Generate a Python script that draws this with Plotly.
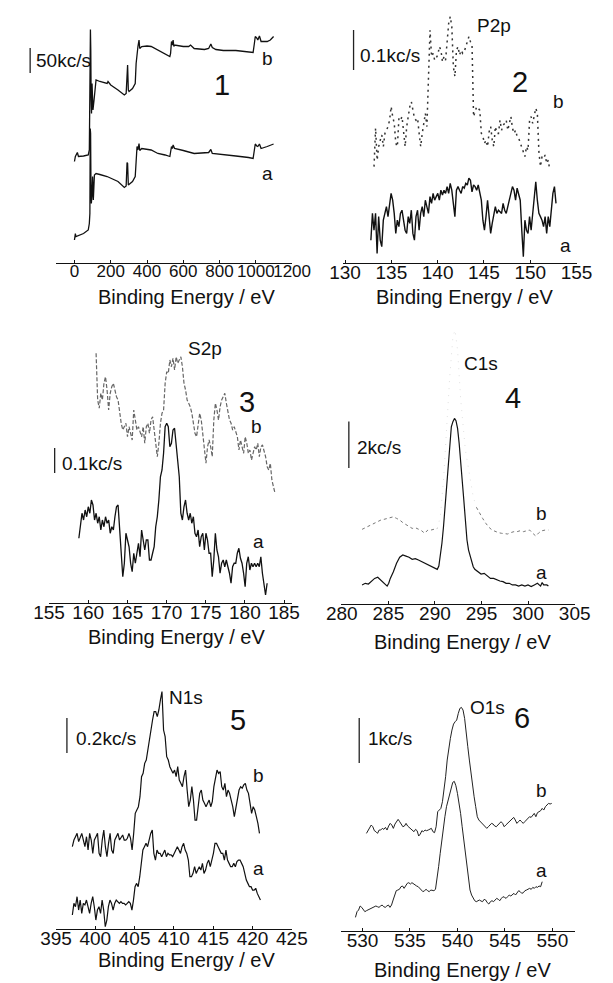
import numpy as np
import plotly.graph_objects as go

W, H = 613, 983
FONT = "Liberation Sans, Arial, Helvetica, sans-serif"

# ---------------- Panel 1: survey spectra (kc/s) ----------------
survey_b_ev = [0, 5, 16, 22, 50, 76, 82, 86, 88, 90, 92, 94, 97, 102, 108, 119, 140, 180, 185, 200,
               240, 275, 285, 290, 293, 297, 301, 320, 335, 340, 345, 350, 356, 360, 371, 400, 423, 460,
               500, 526, 530, 535, 540, 544, 548, 552, 600, 630, 640, 660, 717, 740, 752, 760, 780, 821,
               890, 960, 985, 992, 997, 1005, 1011, 1020, 1029, 1063, 1080, 1098]
survey_b_kcps = [203, 213, 221, 213, 214, 216, 226, 393, 467, 426, 326, 299, 359, 306, 326, 366, 363, 359,
                 363, 356, 346, 336, 339, 393, 396, 346, 343, 349, 359, 399, 426, 433, 446, 429, 433, 434,
                 433, 426, 419, 413, 419, 443, 436, 446, 433, 436, 433, 433, 436, 429, 427, 429, 438, 431,
                 427, 425, 425, 423, 421, 439, 453, 450, 446, 454, 443, 443, 446, 453]
survey_a_ev = [0, 5, 8, 50, 76, 82, 85, 87, 89, 91, 93, 96, 100, 104, 110, 119, 140, 180, 240, 275, 285,
               290, 293, 297, 320, 335, 340, 345, 350, 356, 360, 371, 423, 460, 500, 526, 535, 540, 544,
               552, 600, 660, 740, 752, 760, 821, 890, 960, 985, 992, 997, 1005, 1011, 1020, 1029, 1063, 1098]
survey_a_kcps = [46, 59, 53, 59, 66, 79, 99, 269, 259, 153, 119, 133, 173, 126, 176, 179, 177, 173, 163,
                 151, 154, 201, 199, 156, 163, 173, 213, 233, 226, 239, 225, 229, 226, 219, 216, 213, 233,
                 229, 236, 229, 225, 219, 221, 227, 219, 216, 214, 211, 209, 226, 238, 234, 233, 238, 229,
                 233, 238]

# ---------------- Panel 2: P2p (c/s) ----------------
P2P_A_EV = (132.79, 152.78)
p2p_a_cps = [57, 124, 82, 124, 24, 116, 57, 41, 107, 124, 141, 116, 149, 174, 157, 124, 74, 107, 91, 124,
             132, 107, 82, 74, 116, 99, 132, 74, 57, 116, 132, 82, 124, 141, 116, 157, 141, 124, 166, 149,
             174, 157, 166, 174, 157, 182, 170, 182, 174, 191, 174, 199, 182, 149, 116, 182, 191, 182, 174,
             191, 187, 199, 195, 212, 207, 178, 195, 191, 182, 195, 174, 157, 107, 82, 116, 157, 116, 74,
             99, 124, 141, 124, 132, 128, 124, 149, 132, 124, 141, 157, 174, 191, 182, 157, 187, 174, 157,
             82, 16, 107, 82, 74, 116, 82, 124, 157, 203, 157, 124, 116, 107, 91, 116, 74, 116, 91, 141,
             174, 191, 149]
P2P_B_EV = (133.13, 152.11)
p2p_b_cps = [241, 337, 257, 291, 307, 320, 291, 324, 332, 341, 357, 391, 366, 349, 299, 291, 362, 357, 366,
             324, 291, 341, 366, 391, 403, 382, 362, 357, 362, 324, 291, 324, 349, 374, 341, 449, 582, 516,
             524, 507, 512, 520, 541, 532, 503, 516, 507, 557, 599, 616, 591, 491, 466, 532, 541, 520, 532,
             524, 528, 541, 557, 566, 553, 545, 366, 378, 391, 387, 382, 324, 316, 299, 307, 291, 328, 341,
             307, 291, 341, 324, 324, 357, 332, 345, 349, 357, 332, 349, 366, 337, 324, 332, 316, 312, 299,
             291, 278, 266, 291, 282, 357, 366, 349, 370, 387, 374, 278, 241, 266, 262, 270, 249, 257, 232]

# ---------------- Panel 3: S2p (c/s) ----------------
S2P_A_EV = (158.81, 182.84)
s2p_a_cps = [259, 305, 359, 332, 372, 345, 385, 359, 412, 392, 332, 359, 319, 345, 292, 332, 305, 345, 319,
             332, 279, 305, 292, 345, 385, 392, 279, 172, 105, 159, 279, 252, 225, 159, 125, 199, 159, 199,
             239, 185, 292, 252, 212, 252, 252, 172, 172, 199, 225, 305, 345, 412, 505, 532, 599, 705, 719,
             705, 625, 639, 692, 699, 639, 572, 505, 359, 332, 385, 412, 359, 332, 359, 319, 345, 279, 265,
             292, 225, 265, 279, 212, 279, 252, 199, 199, 105, 172, 279, 212, 185, 119, 159, 172, 145, 172,
             145, 119, 79, 145, 159, 159, 199, 219, 179, 159, 119, 65, 159, 185, 132, 159, 145, 159, 145,
             159, 145, 185, 119, 65, 32, 79]
S2P_B_EV = (161.01, 183.85)
s2p_b_cps = [999, 812, 779, 839, 812, 879, 905, 852, 772, 839, 865, 879, 852, 825, 812, 759, 719, 692, 705,
             719, 665, 705, 679, 652, 772, 732, 692, 705, 679, 665, 705, 639, 705, 719, 679, 732, 745, 692,
             639, 585, 639, 719, 759, 772, 879, 925, 919, 972, 945, 979, 932, 985, 959, 972, 985, 945, 879,
             852, 812, 799, 785, 759, 719, 679, 665, 705, 759, 732, 679, 612, 559, 625, 652, 625, 585, 732,
             799, 772, 732, 785, 812, 825, 839, 799, 759, 732, 719, 692, 705, 679, 665, 612, 652, 625, 599,
             665, 639, 599, 612, 572, 599, 625, 612, 639, 585, 625, 632, 612, 585, 545, 532, 559, 492, 465,
             439]

# ---------------- Panel 4: C1s (kc/s) ----------------
c1s_a_ev = [282.18, 282.52, 282.86, 283.19, 283.53, 283.86, 284.20, 284.54, 284.87, 285.04, 285.21, 285.54,
            285.88, 286.22, 286.55, 286.89, 287.22, 287.56, 287.90, 288.23, 288.57, 288.90, 289.24, 289.58,
            289.91, 290.25, 290.42, 290.58, 290.75, 290.92, 291.09, 291.26, 291.42, 291.59, 291.76, 291.93,
            292.10, 292.26, 292.43, 292.60, 292.77, 292.94, 293.10, 293.27, 293.44, 293.61, 293.78, 293.94,
            294.11, 294.28, 294.62, 294.95, 295.29, 295.63, 295.96, 296.30, 296.63, 296.97, 297.31, 297.64,
            297.98, 298.31, 298.65, 298.99, 299.32, 299.66, 299.99, 300.33, 300.67, 301.00, 301.34, 301.51,
            301.67, 302.01, 302.18]
c1s_a_kcps = [0.82, 0.89, 0.86, 0.96, 1.10, 1.15, 1.03, 0.92, 0.77, 0.89, 1.10, 1.39, 1.75, 2.01, 2.11,
              2.06, 2.01, 1.92, 1.95, 1.89, 1.82, 1.75, 1.68, 1.60, 1.56, 1.49, 1.63, 2.03, 2.61, 3.32,
              4.18, 5.19, 6.19, 7.05, 7.62, 7.84, 7.98, 7.88, 7.55, 6.91, 6.19, 5.33, 4.47, 3.61, 2.75,
              2.32, 2.03, 1.78, 1.60, 1.49, 1.39, 1.29, 1.32, 1.20, 1.10, 1.10, 1.03, 0.99, 0.96, 0.89,
              0.89, 0.82, 0.82, 0.77, 0.82, 0.77, 0.82, 0.75, 0.82, 0.89, 0.77, 0.92, 0.82, 0.82, 0.77]
c1s_b_ev = [282.18, 282.52, 282.86, 283.19, 283.53, 283.86, 284.20, 284.54, 284.87, 285.21, 285.54, 285.88,
            286.22, 286.55, 286.89, 287.22, 287.56, 287.90, 288.23, 288.57, 288.90, 289.24, 289.58, 289.91,
            290.25, 290.58, 290.92, 291.26, 291.59, 291.93, 292.16, 292.43, 292.77, 293.27, 293.78, 294.11,
            294.45, 294.78, 295.12, 295.46, 295.79, 296.13, 296.47, 296.80, 297.14, 297.47, 297.81, 298.15,
            298.48, 298.82, 299.15, 299.49, 299.83, 300.16, 300.50, 300.83, 301.17, 301.51, 301.84, 302.18]
c1s_b_kcps = [3.21, 3.28, 3.32, 3.40, 3.47, 3.54, 3.61, 3.64, 3.68, 3.73, 3.75, 3.68, 3.61, 3.50, 3.42,
              3.35, 3.25, 3.28, 3.21, 3.15, 3.04, 3.18, 3.18, 3.21, 3.25, 3.75, 5.33, 7.62, 9.77, 11.49,
              11.78, 10.92, 8.77, 6.62, 5.33, 4.61, 4.16, 3.90, 3.68, 3.47, 3.30, 3.18, 3.11, 3.07, 3.04,
              3.04, 3.01, 3.07, 3.11, 3.11, 3.15, 3.11, 3.15, 3.18, 3.04, 2.92, 3.07, 3.15, 3.18, 3.18]
C1S_B_PEAK = slice(24, 37)   # steep peak section of curve b, printed very faintly

# ---------------- Panel 5: N1s (c/s) ----------------
N1S_A_EV = (397.08, 421.0)
n1s_a_cps = [80, 146, 127, 184, 108, 165, 89, 146, 137, 165, 127, 89, 146, 184, 127, 51, 108, 127, 89, 165,
             108, 13, 51, 127, 165, 146, 108, 146, 165, 156, 146, 156, 146, 146, 137, 146, 156, 146, 108,
             165, 241, 260, 241, 298, 374, 450, 469, 488, 469, 507, 545, 564, 431, 393, 450, 431, 431, 412,
             431, 450, 412, 431, 422, 422, 412, 431, 450, 469, 450, 431, 469, 488, 450, 431, 393, 298, 298,
             317, 355, 317, 336, 355, 336, 374, 317, 336, 374, 393, 355, 393, 431, 488, 488, 469, 450, 431,
             431, 393, 450, 393, 374, 355, 355, 374, 355, 384, 393, 393, 374, 355, 317, 279, 260, 241, 241,
             222, 222, 232, 203, 184, 165]
N1S_B_EV = (397.08, 420.88)
n1s_b_cps = [469, 507, 526, 545, 498, 526, 545, 507, 469, 526, 450, 545, 507, 431, 507, 526, 545, 431, 412,
             507, 564, 469, 412, 488, 545, 450, 431, 507, 526, 545, 507, 526, 536, 507, 507, 517, 545, 517,
             450, 545, 659, 678, 697, 754, 868, 887, 944, 963, 1020, 1077, 1153, 1191, 1239, 1239, 1210,
             1248, 1305, 1353, 1134, 1096, 982, 963, 925, 906, 887, 906, 868, 925, 849, 830, 811, 868, 906,
             792, 697, 735, 811, 735, 621, 621, 697, 773, 792, 735, 716, 697, 716, 735, 697, 726, 811, 868,
             906, 887, 897, 811, 792, 830, 754, 792, 773, 735, 697, 640, 697, 754, 792, 811, 802, 821, 830,
             792, 773, 716, 659, 697, 678, 640, 602, 545]

# ---------------- Panel 6: O1s (kc/s) ----------------
O1S_A_EV = (529.26, 548.93)
o1s_a_kcps = [0.303, 0.429, 0.466, 0.555, 0.525, 0.481, 0.429, 0.451, 0.466, 0.481, 0.503, 0.525, 0.540,
              0.555, 0.540, 0.525, 0.555, 0.577, 0.540, 0.525, 0.555, 0.577, 0.525, 0.577, 0.688, 0.799,
              0.895, 0.910, 0.925, 0.984, 0.999, 0.947, 1.021, 1.058, 1.073, 1.043, 1.073, 1.043, 1.021,
              0.999, 0.984, 0.947, 0.910, 0.873, 0.895, 0.925, 0.895, 0.873, 0.910, 0.895, 0.895, 0.925,
              1.132, 1.428, 1.724, 2.020, 2.316, 2.538, 2.760, 2.908, 3.056, 3.204, 3.300, 3.323, 3.226,
              3.056, 2.871, 2.612, 2.316, 2.020, 1.724, 1.428, 1.132, 0.910, 0.799, 0.725, 0.673, 0.651,
              0.673, 0.688, 0.666, 0.651, 0.703, 0.688, 0.629, 0.599, 0.651, 0.673, 0.651, 0.688, 0.725,
              0.703, 0.673, 0.725, 0.762, 0.747, 0.725, 0.762, 0.799, 0.777, 0.799, 0.836, 0.799, 0.851,
              0.895, 0.873, 0.836, 0.851, 0.895, 0.910, 0.925, 0.947, 0.925, 0.969, 0.947, 0.984, 0.969,
              0.999, 0.984, 1.095]
O1S_B_EV = (530.42, 549.93)
o1s_b_kcps = [2.168, 2.242, 2.279, 2.353, 2.316, 2.227, 2.205, 2.168, 2.242, 2.242, 2.279, 2.257, 2.301,
              2.242, 2.331, 2.390, 2.353, 2.279, 2.375, 2.427, 2.479, 2.427, 2.375, 2.316, 2.331, 2.390,
              2.331, 2.301, 2.279, 2.242, 2.205, 2.257, 2.227, 2.109, 2.153, 2.227, 2.205, 2.242, 2.227,
              2.242, 2.257, 2.279, 2.205, 2.183, 2.316, 2.649, 2.686, 2.723, 2.871, 3.130, 3.426, 3.796,
              4.092, 4.277, 4.462, 4.595, 4.647, 4.684, 4.832, 4.943, 4.965, 4.906, 4.721, 4.462, 4.092,
              3.796, 3.500, 3.204, 2.982, 2.760, 2.538, 2.464, 2.427, 2.375, 2.331, 2.301, 2.279, 2.316,
              2.353, 2.390, 2.375, 2.331, 2.316, 2.353, 2.405, 2.427, 2.390, 2.316, 2.353, 2.390, 2.427,
              2.464, 2.501, 2.523, 2.464, 2.390, 2.427, 2.464, 2.427, 2.390, 2.427, 2.464, 2.501, 2.538,
              2.523, 2.575, 2.612, 2.538, 2.627, 2.649, 2.671, 2.723, 2.686, 2.760, 2.797, 2.834, 2.820,
              2.834]


def grid(ev_range, values):
    """Energy grid of a spectrum recorded at a constant step."""
    return list(np.linspace(ev_range[0], ev_range[1], len(values)))


# Panel layout in pixels: plot box (left, right, top, bottom), energy range, ticks, y range, tick font
panels = [
    dict(box=(42, 293, 15, 263), xr=[-104, 1201], ticks=[0, 200, 400, 600, 800, 1000, 1200], ytop=496, tf=17),
    dict(box=(347, 595, 15, 263), xr=[129.8, 155.05], ticks=[130, 135, 140, 145, 150, 155], ytop=620, tf=19),
    dict(box=(35, 293, 330, 603), xr=[155, 186.05], ticks=[155, 160, 165, 170, 175, 180, 185], ytop=1092, tf=19),
    dict(box=(345, 593, 320, 604), xr=[279.95, 305.05], ticks=[280, 285, 290, 295, 300, 305], ytop=12.21, tf=19),
    dict(box=(42, 293, 650, 929), xr=[394.95, 425.05], ticks=[395, 400, 405, 410, 415, 420, 425], ytop=1590, tf=19),
    dict(box=(345, 593, 650, 931), xr=[527.77, 552.4], ticks=[530, 535, 540, 545, 550], ytop=6.24, tf=19),
]

c1s_b_left = slice(0, C1S_B_PEAK.start + 1)
c1s_b_right = slice(C1S_B_PEAK.stop - 1, None)

series = [
    # (panel, x, y, colour, width, dash)
    (1, survey_b_ev, survey_b_kcps, "#111", 1.3, "solid"),
    (1, survey_a_ev, survey_a_kcps, "#111", 1.3, "solid"),
    (2, grid(P2P_B_EV, p2p_b_cps), p2p_b_cps, "#333", 1.5, "2px,4px"),
    (2, grid(P2P_A_EV, p2p_a_cps), p2p_a_cps, "#111", 1.4, "solid"),
    (3, grid(S2P_B_EV, s2p_b_cps), s2p_b_cps, "#666", 1.2, "4px,2px"),
    (3, grid(S2P_A_EV, s2p_a_cps), s2p_a_cps, "#111", 1.3, "solid"),
    (4, c1s_b_ev[C1S_B_PEAK], c1s_b_kcps[C1S_B_PEAK], "#d8d8d8", 0.8, "1px,6px"),
    (4, c1s_b_ev[c1s_b_left], c1s_b_kcps[c1s_b_left], "#777", 1.0, "dot"),
    (4, c1s_b_ev[c1s_b_right], c1s_b_kcps[c1s_b_right], "#777", 1.0, "dot"),
    (4, c1s_a_ev, c1s_a_kcps, "#111", 1.2, "solid"),
    (5, grid(N1S_B_EV, n1s_b_cps), n1s_b_cps, "#111", 1.2, "solid"),
    (5, grid(N1S_A_EV, n1s_a_cps), n1s_a_cps, "#111", 1.2, "solid"),
    (6, grid(O1S_B_EV, o1s_b_kcps), o1s_b_kcps, "#222", 1.0, "solid"),
    (6, grid(O1S_A_EV, o1s_a_kcps), o1s_a_kcps, "#222", 1.0, "solid"),
]

# Intensity scale bars: (panel, x pixel, lower end, length in the panel's intensity unit, label)
scale_bars = [
    (1, 15, 380, 50, "50kc/s"),
    (2, 358, 482.5, 100, "0.1kc/s"),
    (3, 41, 520, 100, "0.1kc/s"),
    (4, 353, 5.85, 2, "2kc/s"),
    (5, 54, 1003, 200, "0.2kc/s"),
    (6, 364, 3.73, 1, "1kc/s"),
]

# Text placed in pixel coordinates
panel_numbers = [("1", 218, 85), ("2", 535, 82), ("3", 245, 402), ("4", 527, 398), ("5", 235, 720), ("6", 537, 718)]
core_levels = [("P2p", 507, 25), ("S2p", 200, 348), ("C1s", 493, 363), ("N1s", 180, 697), ("O1s", 500, 707)]
curve_tags = [("b", 267, 58), ("a", 267, 173), ("b", 575, 102), ("a", 583, 245),
              ("b", 255, 426), ("a", 257, 541), ("b", 557, 513), ("a", 557, 572),
              ("b", 257, 775), ("a", 257, 868), ("b", 557, 790), ("a", 557, 870)]
scale_label_pos = [(19, 60), (363, 55), (47, 463), (359, 447), (62, 738), (371, 738)]
axis_title_pos = [(181, 297), (476, 297), (170, 637), (474, 642), (181, 960), (474, 970)]
AXIS_TITLE = "Binding Energy / eV"


def px(x):
    return x / W


def py(y):
    return 1 - y / H


fig = go.Figure()
layout = dict(width=W, height=H, margin=dict(l=0, r=0, t=0, b=0),
              paper_bgcolor="white", plot_bgcolor="rgba(0,0,0,0)", showlegend=False,
              font=dict(family=FONT, color="#111"))

for i, p in enumerate(panels, start=1):
    l, r, t, b = p["box"]
    sfx = "" if i == 1 else str(i)
    layout["xaxis" + sfx] = dict(domain=[px(l), px(r)], range=p["xr"], anchor="y" + sfx,
                                 tickvals=p["ticks"], ticktext=[str(v) for v in p["ticks"]],
                                 showline=True, linecolor="#111", linewidth=1.2, ticks="inside",
                                 ticklen=3, tickcolor="#111", tickangle=0, showgrid=False, zeroline=False,
                                 ticklabelstandoff=-8,
                                 tickfont=dict(size=p["tf"], family=FONT, color="#111"), fixedrange=True)
    layout["yaxis" + sfx] = dict(domain=[py(b), py(t)], range=[0, p["ytop"]], anchor="x" + sfx,
                                 visible=False, fixedrange=True)

for pnl, x, y, col, wid, dash in series:
    sfx = "" if pnl == 1 else str(pnl)
    fig.add_trace(go.Scatter(x=x, y=y, mode="lines", xaxis="x" + sfx, yaxis="y" + sfx,
                             line=dict(color=col, width=wid, dash=dash), hoverinfo="skip"))

shapes = []
annotations = []
for (pnl, bx, y0, length, label), (lx, ly) in zip(scale_bars, scale_label_pos):
    sfx = "" if pnl == 1 else str(pnl)
    shapes.append(dict(type="line", xref="paper", yref="y" + sfx, x0=px(bx), x1=px(bx),
                       y0=y0, y1=y0 + length, line=dict(color="#222", width=1.3)))
    annotations.append(dict(text=label, x=px(lx), y=py(ly), xref="paper", yref="paper",
                            xanchor="left", yanchor="middle", showarrow=False, font=dict(size=19)))

for txt, x, y in panel_numbers:
    annotations.append(dict(text=txt, x=px(x), y=py(y), xref="paper", yref="paper", xanchor="center",
                            yanchor="middle", showarrow=False, font=dict(size=29)))
for txt, x, y in core_levels:
    annotations.append(dict(text=txt, x=px(x), y=py(y), xref="paper", yref="paper", xanchor="center",
                            yanchor="middle", showarrow=False, font=dict(size=19)))
for txt, x, y in curve_tags:
    annotations.append(dict(text=txt, x=px(x), y=py(y), xref="paper", yref="paper", xanchor="center",
                            yanchor="middle", showarrow=False, font=dict(size=19)))
for x, y in axis_title_pos:
    annotations.append(dict(text=AXIS_TITLE, x=px(x), y=py(y), xref="paper", yref="paper",
                            xanchor="center", yanchor="middle", showarrow=False, font=dict(size=20)))

layout["shapes"] = shapes
layout["annotations"] = annotations
fig.update_layout(**layout)
fig.write_html("out.html", config={"displayModeBar": False})
